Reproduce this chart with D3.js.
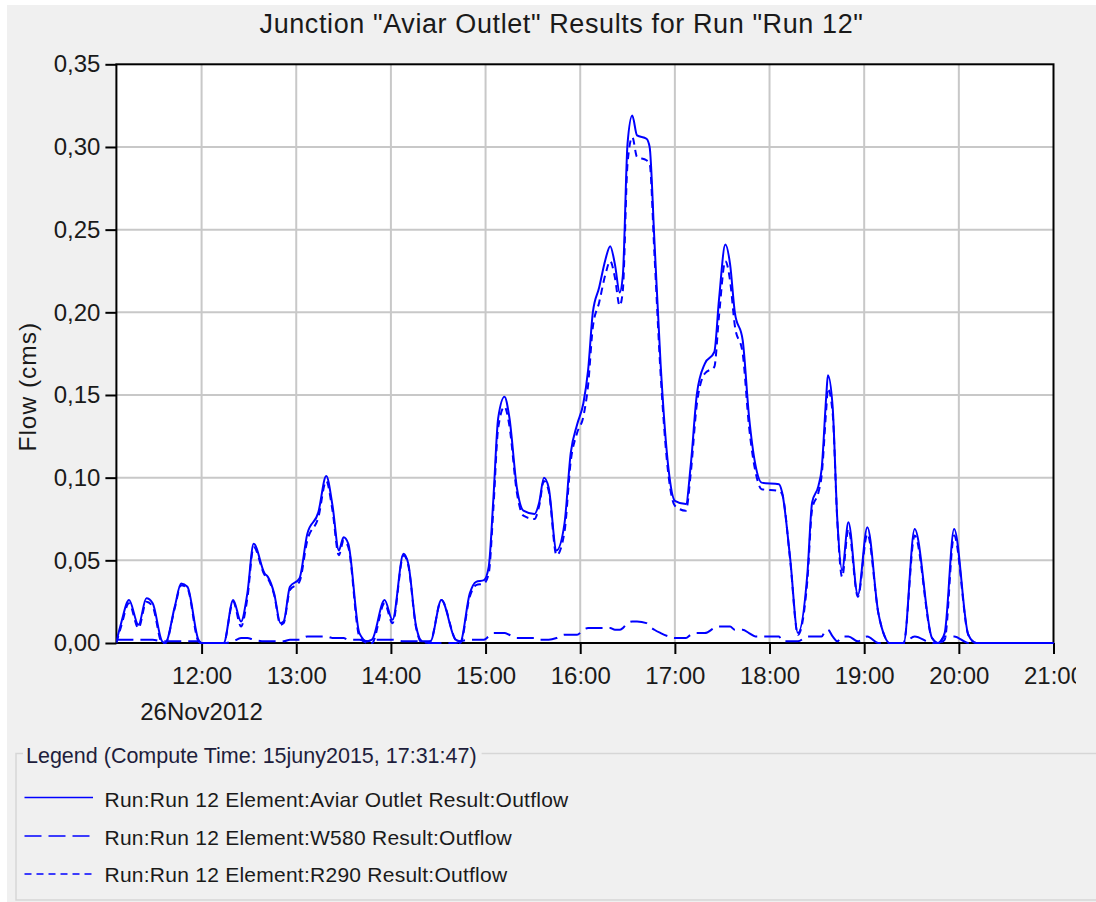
<!DOCTYPE html>
<html>
<head>
<meta charset="utf-8">
<script src="https://cdn.jsdelivr.net/npm/d3@7"></script>
<style>
  body { margin: 0; background: #fff; }
  svg { display: block; font-family: "Liberation Sans", Arial, sans-serif; }
</style>
</head>
<body>
<svg width="1096" height="902"></svg>
<script>
let chartTitle = 'Junction "Aviar Outlet" Results for Run "Run 12"';
let yLabel = "Flow (cms)";
let dateLabel = "26Nov2012";
let legendTitle = "Legend (Compute Time: 15juny2015, 17:31:47)";
let seriesNames = ["Run:Run 12 Element:Aviar Outlet Result:Outflow",
                   "Run:Run 12 Element:W580 Result:Outflow",
                   "Run:Run 12 Element:R290 Result:Outflow"];

let yTicks = [0, 0.05, 0.10, 0.15, 0.20, 0.25, 0.30, 0.35];

let times = ["11:06","11:09","11:14","11:20","11:25","11:29","11:35","11:37","11:43","11:47","11:51","11:58","12:00",
  "12:14","12:20","12:25","12:29","12:33","12:40","12:42","12:46","12:50","12:52","12:56","13:02",
  "13:07","13:14","13:19","13:23","13:27","13:30","13:33","13:40","13:45","13:48","13:56","14:01","14:08","14:11","14:16","14:20",
  "14:25","14:32","14:41","14:44","14:50","14:54","14:59","15:02","15:05","15:08","15:12","15:15","15:20","15:24","15:31","15:34","15:37","15:40","15:45",
  "15:50","15:54","15:58","16:02","16:05","16:08","16:12","16:16","16:19","16:22","16:25","16:27","16:30","16:33","16:36","16:42","16:44","16:47","16:51","16:56",
  "17:00","17:07","17:10","17:14","17:19","17:25","17:28","17:32","17:35","17:38","17:43","17:47","17:51","17:55","18:06","18:08",
  "18:13","18:18","18:24","18:27","18:31","18:33","18:36","18:37","18:40","18:43","18:46","18:50","18:56","19:02","19:09","19:13","19:16",
  "19:25","19:32","19:43","19:47","19:51","19:57","20:06","20:11","21:00"];

let outletFlow = [0.001,0.012,0.026,0.011,0.027,0.024,0.001,0,0.022,0.036,0.034,0.002,0,
  0,0.026,0.013,0.030,0.060,0.042,0.040,0.030,0.012,0.013,0.034,0.039,
  0.066,0.079,0.101,0.083,0.056,0.064,0.060,0.006,0.001,0.002,0.026,0.014,0.054,0.048,0.010,0.001,
  0.001,0.026,0.002,0.001,0.030,0.037,0.038,0.046,0.088,0.136,0.149,0.137,0.093,0.080,0.078,0.085,0.100,0.094,0.056,
  0.072,0.115,0.132,0.145,0.165,0.200,0.215,0.232,0.240,0.229,0.212,0.222,0.302,0.319,0.307,0.305,0.300,0.244,0.168,0.105,
  0.086,0.084,0.107,0.151,0.169,0.176,0.208,0.241,0.229,0.200,0.183,0.137,0.108,0.097,0.096,0.091,
  0.052,0.006,0.042,0.085,0.095,0.105,0.150,0.162,0.143,0.074,0.044,0.073,0.029,0.070,0.018,0.004,0,
  0,0.069,0.003,0,0.006,0.069,0.005,0,0];

let w580Flow = [0.002,0.002,0.002,0.002,0.002,0.002,0.001,0.001,0.001,0.001,0.001,0.001,0,
  0,0.001,0.003,0.003,0.002,0.001,0.001,0.001,0.001,0.001,0.002,0.002,
  0.004,0.004,0.004,0.003,0.003,0.003,0.002,0.002,0.001,0.002,0.002,0.002,0.001,0.001,0.001,0.001,
  0,0,0,0.001,0.002,0.002,0.002,0.004,0.006,0.006,0.006,0.005,0.003,0.003,0.003,0.002,0.002,0.002,0.003,
  0.005,0.005,0.005,0.008,0.009,0.009,0.009,0.009,0.009,0.008,0.008,0.009,0.012,0.013,0.013,0.012,0.010,0.008,0.006,0.004,
  0.003,0.003,0.005,0.006,0.006,0.009,0.010,0.010,0.010,0.008,0.008,0.006,0.004,0.004,0.004,0.001,
  0.001,0.001,0.004,0.004,0.004,0.004,0.008,0.008,0.004,0.001,0.004,0.004,0.001,0.004,0,0,0,
  0,0.004,0,0,0.004,0.004,0,0,0];

let r290Flow = [0,0.010,0.024,0.009,0.025,0.022,0,0,0.021,0.035,0.033,0.001,0,
  0,0.025,0.010,0.027,0.058,0.041,0.039,0.029,0.011,0.012,0.032,0.037,
  0.062,0.076,0.098,0.080,0.053,0.062,0.058,0.004,0,0,0.024,0.012,0.053,0.047,0.009,0,
  0.001,0.026,0.002,0,0.028,0.035,0.036,0.042,0.082,0.130,0.143,0.132,0.090,0.077,0.075,0.083,0.098,0.092,0.053,
  0.067,0.110,0.127,0.137,0.156,0.191,0.206,0.223,0.231,0.221,0.204,0.213,0.290,0.306,0.294,0.292,0.290,0.236,0.162,0.101,
  0.083,0.080,0.102,0.145,0.163,0.167,0.198,0.231,0.219,0.192,0.175,0.131,0.104,0.093,0.092,0.090,
  0.051,0.005,0.038,0.081,0.091,0.101,0.142,0.154,0.139,0.073,0.040,0.069,0.028,0.066,0.018,0.004,0,
  0,0.065,0.003,0,0.002,0.065,0.005,0,0];

let parseTime = d3.timeParse("%Y-%m-%d %H:%M");
let day = "2012-11-26 ";

let plotLeft = 116.4, plotRight = 1053.5, plotTop = 64.3, plotBottom = 643;

let svg = d3.select("svg");

// panel background
svg.append("rect").attr("x", 7).attr("y", 5).attr("width", 1089).attr("height", 897).attr("fill", "#f0f0f0");

let x = d3.scaleTime().domain([parseTime(day + "11:06"), parseTime(day + "21:00")]).range([plotLeft, plotRight]);
let y = d3.scaleLinear().domain([0, 0.35]).range([plotBottom, plotTop]);

let comma = d3.formatLocale({decimal: ",", thousands: ".", grouping: [3], currency: ["", ""]}).format(".2f");

svg.append("rect").attr("x", plotLeft).attr("y", plotTop).attr("width", plotRight - plotLeft).attr("height", plotBottom - plotTop).attr("fill", "#fff");

let hourTicks = x.ticks(d3.timeHour.every(1));

// grid
let grid = svg.append("g").attr("stroke", "#c8c8c8").attr("stroke-width", 2);
grid.selectAll(".gx").data(hourTicks.filter(d => x(d) < plotRight - 2)).enter().append("line")
  .attr("x1", d => x(d)).attr("x2", d => x(d)).attr("y1", plotTop).attr("y2", plotBottom);
grid.selectAll(".gy").data(yTicks.filter(d => d > 0 && d < 0.35)).enter().append("line")
  .attr("x1", plotLeft).attr("x2", plotRight).attr("y1", d => y(d)).attr("y2", d => y(d));

// frame
svg.append("rect").attr("x", plotLeft).attr("y", plotTop).attr("width", plotRight - plotLeft).attr("height", plotBottom - plotTop)
  .attr("fill", "none").attr("stroke", "#000").attr("stroke-width", 2);

// axes
svg.append("clipPath").attr("id", "xclip").append("rect").attr("x", 0).attr("y", -5).attr("width", 1076).attr("height", 80);

let yAxis = svg.append("g").attr("transform", "translate(" + plotLeft + ",0)")
  .call(d3.axisLeft(y).tickValues(yTicks).tickSize(11).tickPadding(5).tickFormat(comma));
let xAxis = svg.append("g").attr("transform", "translate(0," + plotBottom + ")").attr("clip-path", "url(#xclip)")
  .call(d3.axisBottom(x).ticks(d3.timeHour.every(1)).tickSize(11).tickPadding(13).tickFormat(d3.timeFormat("%H:%M")));
[yAxis, xAxis].forEach(function(a){
  a.select(".domain").remove();
  a.selectAll("line").attr("stroke", "#000").attr("stroke-width", 2);
  a.selectAll("text").attr("fill", "#1a1a1a").style("font-size", "24px").style("font-family", "'Liberation Sans', Arial, sans-serif");
});

// series
svg.append("clipPath").attr("id", "plotclip").append("rect")
  .attr("x", plotLeft).attr("y", plotTop - 3).attr("width", plotRight - plotLeft + 1).attr("height", plotBottom - plotTop + 5);

let rows = times.map((t, i) => ({date: parseTime(day + t), outlet: outletFlow[i], w580: w580Flow[i], r290: r290Flow[i]}));

let series = [
  {key: "r290", dash: "7,5"},
  {key: "w580", dash: "17,7"},
  {key: "outlet", dash: null}
];

let plot = svg.append("g").attr("clip-path", "url(#plotclip)");
series.forEach(function(s){
  let line = d3.line().x(d => x(d.date)).y(d => y(d[s.key])).curve(d3.curveMonotoneX);
  plot.append("path").datum(rows).attr("d", line)
    .attr("fill", "none").attr("stroke", "#0000ff").attr("stroke-width", 2)
    .attr("stroke-dasharray", s.dash);
});

// titles
svg.append("text").attr("x", 561.5).attr("y", 33).attr("text-anchor", "middle")
  .style("font-size", "27px").style("letter-spacing", "0.6px").attr("fill", "#1a1a1a").text(chartTitle);

svg.append("text").attr("transform", "translate(36,386.7) rotate(-90)").attr("text-anchor", "middle")
  .style("font-size", "24.5px").style("letter-spacing", "1px").attr("fill", "#1a1a1a").text(yLabel);

svg.append("text").attr("x", x(hourTicks[0])).attr("y", 720).attr("text-anchor", "middle")
  .style("font-size", "24px").attr("fill", "#1a1a1a").text(dateLabel);

// legend
let legend = svg.append("g");
legend.append("rect").attr("x", 16).attr("y", 753.5).attr("width", 1100).attr("height", 146.5)
  .attr("fill", "none").attr("stroke", "#d6d6d6").attr("stroke-width", 1.5);
let lt = legend.append("text").attr("x", 26).attr("y", 762.7)
  .style("font-size", "21.5px").attr("fill", "#1e1e3c").text(legendTitle);
let ltw = lt.node().getComputedTextLength();
legend.insert("rect", "text").attr("x", 23).attr("y", 750).attr("width", ltw + 8).attr("height", 8).attr("fill", "#f0f0f0");

let rowY = [797.5, 836, 874];
let baseY = [807.3, 844.5, 882];
let dashes = [null, "17,7", "7,5"];
seriesNames.forEach(function(name, i){
  legend.append("line").attr("x1", 24.5).attr("x2", 93).attr("y1", rowY[i]).attr("y2", rowY[i])
    .attr("stroke", "#0000ff").attr("stroke-width", 1.6).attr("stroke-dasharray", dashes[i]);
  legend.append("text").attr("x", 104.5).attr("y", baseY[i])
    .style("font-size", "21px").style("letter-spacing", "0.25px").attr("fill", "#1a1a1a").text(name);
});
</script>
</body>
</html>
